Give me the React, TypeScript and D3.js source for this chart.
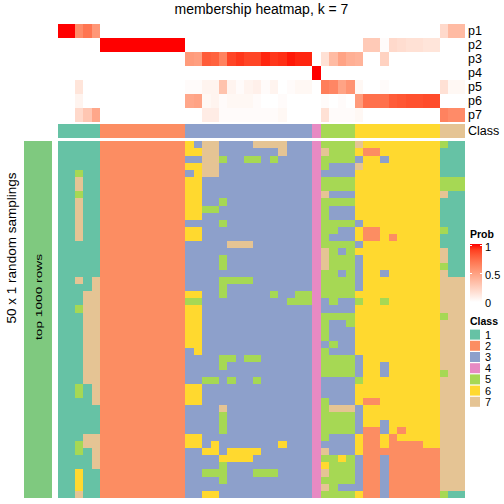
import React from 'react';
import * as d3 from 'd3';

// ---------- data ----------
const CLASS_IDS = [1, 2, 3, 4, 5, 6, 7];
const CLASS_COLORS = ['#66C2A5', '#FC8D62', '#8DA0CB', '#E78AC3', '#A6D854', '#FFD92F', '#E5C494'];
const PROB_LABELS = ['p1', 'p2', 'p3', 'p4', 'p5', 'p6', 'p7'];
const PROB_TICKS = [0, 0.5, 1];

const consensusClass = [
  1, 1, 1, 1, 1,
  2, 2, 2, 2, 2, 2, 2, 2, 2, 2,
  3, 3, 3, 3, 3, 3, 3, 3, 3, 3, 3, 3, 3, 3, 3,
  4,
  5, 5, 5, 5,
  6, 6, 6, 6, 6, 6, 6, 6, 6, 6,
  7, 7, 7,
];

const p1 = [1, 1, 0.6, 0.7, 0.54, 0, 0, 0, 0, 0, 0, 0, 0, 0, 0, 0, 0, 0, 0, 0, 0, 0, 0, 0, 0, 0, 0, 0, 0, 0, 0, 0, 0, 0, 0, 0, 0, 0, 0, 0, 0, 0, 0, 0, 0, 0.2, 0.36, 0.36];
const p2 = [0, 0, 0, 0, 0, 1, 1, 1, 1, 1, 1, 1, 1, 1, 1, 0, 0, 0, 0, 0, 0, 0, 0, 0, 0, 0, 0, 0, 0, 0, 0, 0, 0, 0, 0, 0, 0.28, 0.28, 0.02, 0.2, 0.18, 0.16, 0.16, 0.14, 0.14, 0, 0, 0];
const p3 = [0, 0, 0, 0, 0, 0, 0, 0, 0, 0, 0, 0, 0, 0, 0, 0.52, 0.5, 0.8, 0.78, 0.64, 0.88, 0.92, 0.88, 0.88, 0.96, 0.92, 0.94, 0.98, 0.96, 0.96, 0, 0.16, 0.36, 0.48, 0.42, 0.4, 0, 0, 0.24, 0, 0, 0, 0, 0, 0, 0, 0, 0];
const p4 = [0, 0, 0, 0, 0, 0, 0, 0, 0, 0, 0, 0, 0, 0, 0, 0, 0, 0, 0, 0, 0, 0, 0, 0, 0, 0, 0, 0, 0, 0, 1, 0, 0, 0, 0, 0, 0, 0, 0, 0, 0, 0, 0, 0, 0, 0, 0, 0];
const p5 = [0, 0, 0.14, 0, 0, 0, 0, 0, 0, 0, 0, 0, 0, 0, 0, 0.02, 0.02, 0.06, 0.06, 0.32, 0.06, 0.02, 0.06, 0.08, 0.02, 0.06, 0, 0.02, 0.04, 0.04, 0, 0.66, 0.62, 0.48, 0.56, 0.04, 0, 0, 0.02, 0, 0, 0, 0, 0, 0, 0.16, 0.04, 0.04];
const p6 = [0, 0, 0.06, 0, 0, 0, 0, 0, 0, 0, 0, 0, 0, 0, 0, 0.46, 0.48, 0.04, 0.06, 0.02, 0.04, 0.04, 0.04, 0.02, 0, 0, 0.02, 0, 0, 0, 0, 0.02, 0, 0.02, 0, 0.52, 0.72, 0.72, 0.72, 0.8, 0.82, 0.84, 0.84, 0.86, 0.86, 0, 0, 0];
const p7 = [0, 0, 0.2, 0.3, 0.46, 0, 0, 0, 0, 0, 0, 0, 0, 0, 0, 0, 0, 0.1, 0.1, 0.02, 0.02, 0.02, 0.02, 0.02, 0.02, 0.02, 0.04, 0, 0, 0, 0, 0.16, 0.02, 0.02, 0.02, 0.04, 0, 0, 0, 0, 0, 0, 0, 0, 0, 0.64, 0.6, 0.6];

// class assigned in each of the 50 random samplings (one string per sampling, one digit per column)
const samplings = [
  '11111 2222222222 637733337777333 4 5555 7666666666 511',
  '11111 2222222222 667733333337333 4 7555 6226666666 111',
  '11111 2222222222 337753355353333 4 5555 3663666666 111',
  '11111 2222222222 667733333333333 4 5333 7666666666 111',
  '11511 2222222222 367733333333333 4 3333 6666666666 111',
  '11711 2222222222 663333333333333 4 5555 6666666666 555',
  '11711 2222222222 663333333333333 4 5555 6666666666 555',
  '11511 2222222222 663333333333333 4 7333 6666666666 711',
  '11711 2222222222 663353333333333 4 5555 6666666666 111',
  '11711 2222222222 665533333333333 4 5333 6666666666 111',
  '11711 2222222222 663333333333333 4 5333 6666666666 111',
  '11711 2222222222 333353333333333 4 5555 3666666666 111',
  '11711 2222222222 663333333333333 4 5533 6226666666 511',
  '11711 2222222222 663333333333333 4 5333 6226266666 111',
  '11111 2222222222 333337773333333 4 5555 3666666666 111',
  '11111 2222222222 333333333333333 4 7535 6666666666 711',
  '11111 2222222222 333353333333333 4 7555 3666666666 711',
  '11111 2222222222 333353333333333 4 7555 3666666666 511',
  '11111 2222222222 333333333333333 4 5535 3663666666 711',
  '11717 2222222222 333355553333333 4 5555 3666666666 777',
  '11117 2222222222 333353333333333 4 5555 3666666666 777',
  '11177 2222222222 663353333353355 4 5555 6666666666 777',
  '11177 2222222222 553333333333555 4 3533 5665666666 777',
  '11577 2222222222 663333333333333 4 3333 6666666666 777',
  '11177 2222222222 663333333333333 4 5555 6666666666 577',
  '11177 2222222222 663333333333333 4 5335 6666666666 777',
  '11177 2222222222 663333333333333 4 5333 6666666666 777',
  '11177 2222222222 663333333333333 4 5333 6666666666 777',
  '11177 2222222222 663333333333333 4 3533 6666666666 777',
  '11177 2222222222 363333333333333 4 5333 6666666666 777',
  '11177 2222222222 333355355333333 4 5555 3666666666 777',
  '11177 2222222222 333353333333333 4 5555 3663666666 777',
  '11177 2222222222 333333333333333 4 5555 3663666666 577',
  '11177 2222222222 335535335333333 4 3333 5666666666 777',
  '11517 2222222222 663333333333333 4 3333 6666666666 777',
  '11517 2222222222 663333333333333 4 3333 6666666666 777',
  '11117 2222222222 663333333333333 4 5333 6226666666 777',
  '11111 2222222222 333373333333333 4 5777 3666666666 777',
  '11111 2222222222 333353333333333 4 5555 3666666666 777',
  '11111 2222222222 333353333333333 4 5555 3663666666 777',
  '11111 2222222222 333353333333333 4 5555 3223626666 777',
  '11177 2222222222 663333333333333 4 5333 6226266666 777',
  '11577 2222222222 663633333336333 4 3333 6226222266 777',
  '11517 2222222222 336636666333333 4 7333 6222222222 777',
  '11117 2222222222 333366663333333 4 5565 3223222222 777',
  '11117 2222222222 333353333333333 4 6555 3223222222 777',
  '11611 2222222222 335553335553333 4 7555 3223222222 777',
  '11611 2222222222 333353333333333 4 5555 3223222222 777',
  '11611 2222222222 333333333333333 4 7533 3223222222 777',
  '11711 2222222222 336633333333333 4 5555 6223222222 511',
];

const TITLE = 'membership heatmap, k = 7';
const ROW_TITLE = '50 x 1 random samplings';
const ROW_GROUP_LABEL = 'top 1000 rows';

// ---------- component ----------
const FONT = '"Liberation Sans", Arial, Helvetica, sans-serif';

export default function App() {
  const probs = [p1, p2, p3, p4, p5, p6, p7];
  const grid = samplings.map((s) => s.replace(/\s+/g, '').split('').map(Number));
  const nCol = consensusClass.length;
  const nRow = grid.length;

  const x = d3.scaleBand<number>().domain(d3.range(nCol)).range([57.7, 465.2]).paddingInner(0);
  const yProb = d3.scaleBand<number>().domain(d3.range(PROB_LABELS.length)).range([24, 122]);
  const classBand = [124, 138];
  const yBody = d3.scaleBand<number>().domain(d3.range(nRow)).range([141.3, 498]);

  const probColor = d3.scaleLinear<string>().domain([0, 1]).range(['#FFFFFF', '#FF0000']).interpolate(d3.interpolateLab);
  const classColor = d3.scaleOrdinal<number, string>().domain(CLASS_IDS).range(CLASS_COLORS);

  // legend scales
  const legX = 470;
  const probLegY = d3.scaleLinear().domain([0, 1]).range([301.5, 245.5]);
  const gradStops = d3.range(0, 1.0001, 0.1);
  const classLegY = d3.scaleBand<number>().domain(CLASS_IDS).range([329, 329 + 7 * 11.2]);

  return (
    <div style={{ position: 'absolute', left: 0, top: 0 }}>
      <svg width={504} height={504} style={{ display: 'block', fontFamily: FONT }}>
        <rect width={504} height={504} fill="#FFFFFF" />
        <defs>
          <linearGradient id="probGrad" x1="0" y1="1" x2="0" y2="0">
            {gradStops.map((v) => (
              <stop key={v} offset={v} stopColor={probColor(v)} />
            ))}
          </linearGradient>
        </defs>

        {/* title */}
        <text x={(57.7 + 465.2) / 2} y={14} textAnchor="middle" fontSize={14} fill="#000">
          {TITLE}
        </text>

        {/* membership probability annotation */}
        <g shapeRendering="crispEdges">
          {probs.map((arr, k) =>
            arr.map((v, j) => (
              <rect key={`p${k}-${j}`} x={x(j)} y={yProb(k)} width={x.bandwidth()} height={yProb.bandwidth()} fill={probColor(v)} />
            ))
          )}
          {consensusClass.map((c, j) => (
            <rect key={`c${j}`} x={x(j)} y={classBand[0]} width={x.bandwidth()} height={classBand[1] - classBand[0]} fill={classColor(c)} />
          ))}
        </g>
        {PROB_LABELS.map((lab, k) => (
          <text key={lab} x={468} y={(yProb(k) as number) + yProb.bandwidth() / 2} dominantBaseline="central" fontSize={12.5} fill="#000">
            {lab}
          </text>
        ))}
        <text x={468} y={(classBand[0] + classBand[1]) / 2} dominantBaseline="central" fontSize={12.5} fill="#000">
          Class
        </text>

        {/* body: class in each sampling */}
        <g shapeRendering="crispEdges">
          {grid.map((row, i) =>
            row.map((c, j) => (
              <rect key={`b${i}-${j}`} x={x(j)} y={yBody(i)} width={x.bandwidth()} height={yBody.bandwidth()} fill={classColor(c)} />
            ))
          )}
        </g>

        {/* left row group bar */}
        <rect x={24} y={141.3} width={28} height={498 - 141.3} fill="#7FC97F" shapeRendering="crispEdges" />
        <text
          transform={`translate(38.5,297) rotate(-90)`}
          textAnchor="middle"
          dominantBaseline="central"
          fontSize={9}
          textLength={86}
          lengthAdjust="spacingAndGlyphs"
          fill="#000"
        >
          {ROW_GROUP_LABEL}
        </text>
        <text transform={`translate(11,248) rotate(-90)`} textAnchor="middle" dominantBaseline="central" fontSize={13.5} fill="#000">
          {ROW_TITLE}
        </text>

        {/* Prob legend */}
        <text x={legX} y={238} fontSize={10.5} fontWeight="bold" fill="#000">Prob</text>
        <rect x={legX} y={244} width={12} height={58} fill="url(#probGrad)" />
        {PROB_TICKS.map((t) => (
          <g key={t}>
            {t > 0 && (
              <>
                <line x1={legX} x2={legX + 2} y1={probLegY(t)} y2={probLegY(t)} stroke="#FFFFFF" strokeWidth={1} />
                <line x1={legX + 10} x2={legX + 12} y1={probLegY(t)} y2={probLegY(t)} stroke="#FFFFFF" strokeWidth={1} />
              </>
            )}
            <text x={legX + 15} y={probLegY(t) + 1.5} dominantBaseline="central" fontSize={11} fill="#000">
              {String(t)}
            </text>
          </g>
        ))}

        {/* Class legend */}
        <text x={legX} y={325} fontSize={10.5} fontWeight="bold" fill="#000">Class</text>
        {CLASS_IDS.map((c) => (
          <g key={c}>
            <rect x={legX} y={(classLegY(c) as number) + 0.6} width={10} height={classLegY.bandwidth() - 1.2} fill={classColor(c)} />
            <text x={legX + 15} y={(classLegY(c) as number) + classLegY.bandwidth() / 2} dominantBaseline="central" fontSize={11} fill="#000">
              {String(c)}
            </text>
          </g>
        ))}
      </svg>
    </div>
  );
}
